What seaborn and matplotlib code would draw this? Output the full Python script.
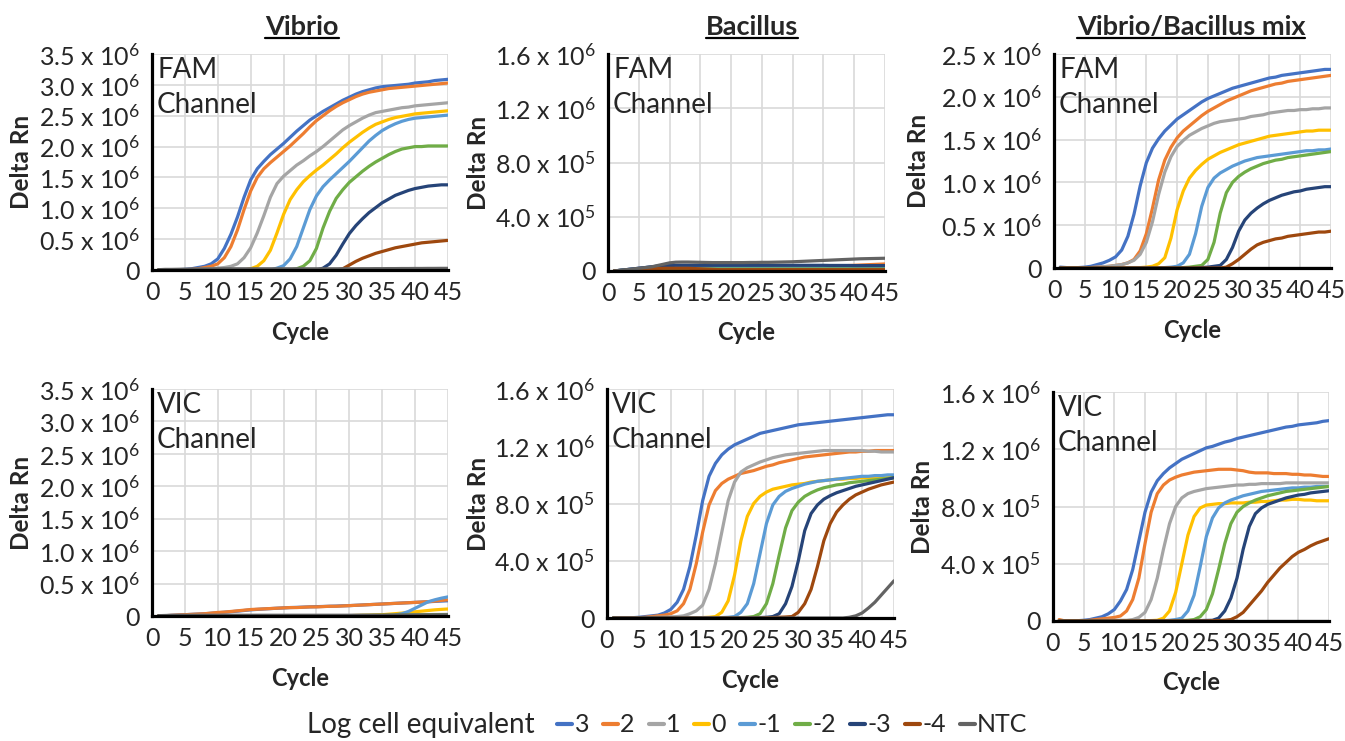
import pandas as pd
import matplotlib.pyplot as plt
import seaborn as sns
from matplotlib.lines import Line2D

# cycles and series
CYCLES = list(range(1, 46))
SERIES = ['3', '2', '1', '0', '-1', '-2', '-3', '-4', 'NTC']
COLORS = ['#4472C4', '#ED7D31', '#A5A5A5', '#FFC000', '#5B9BD5',
          '#70AD47', '#264478', '#9E480E', '#636363']

# ---- Vibrio, FAM channel (x 1e5) ----
vib_fam_3 = [0, 0, 0, 0.05, 0.1, 0.2, 0.4, 0.6, 1.0, 1.8,
             3.5, 5.8, 8.6, 11.8, 14.6, 16.4, 17.6, 18.7, 19.6, 20.5,
             21.5, 22.5, 23.4, 24.3, 25.0, 25.7, 26.3, 26.9, 27.5, 28.0,
             28.5, 28.9, 29.2, 29.5, 29.7, 29.8, 29.9, 30.0, 30.1, 30.3,
             30.4, 30.5, 30.7, 30.8, 30.9]
vib_fam_2 = [0, 0, 0, 0, 0.05, 0.1, 0.2, 0.4, 0.6, 1.0,
             2.0, 3.8, 6.5, 9.8, 12.8, 15.0, 16.4, 17.4, 18.3, 19.2,
             20.1, 21.1, 22.1, 23.2, 24.2, 25.0, 25.8, 26.5, 27.1, 27.6,
             28.1, 28.5, 28.8, 29.0, 29.2, 29.4, 29.5, 29.6, 29.7, 29.8,
             29.9, 30.0, 30.1, 30.2, 30.3]
vib_fam_1 = [0, 0, 0, 0, 0, 0.05, 0.1, 0.15, 0.2, 0.3,
             0.4, 0.6, 1.0, 2.0, 3.6, 6.0, 8.8, 11.8, 14.0, 15.2,
             16.1, 17.0, 17.7, 18.5, 19.2, 20.0, 20.9, 21.8, 22.7, 23.4,
             24.0, 24.6, 25.1, 25.5, 25.7, 25.9, 26.1, 26.3, 26.4, 26.6,
             26.7, 26.8, 26.9, 27.0, 27.1]
vib_fam_0 = [0, 0, 0, 0, 0, 0, 0, 0, 0, 0,
             0, 0, 0, 0, 0.2, 0.6, 1.5, 3.2, 6.0, 9.0,
             11.4, 13.0, 14.3, 15.3, 16.2, 17.0, 17.9, 18.8, 19.8, 20.7,
             21.5, 22.3, 23.0, 23.6, 24.0, 24.4, 24.7, 24.9, 25.1, 25.3,
             25.4, 25.5, 25.6, 25.7, 25.8]
vib_fam_m1 = [0, 0, 0, 0, 0, 0, 0, 0, 0, 0,
              0, 0, 0, 0, 0, 0, 0, 0, 0.3, 0.7,
              1.8, 3.8, 6.8, 9.8, 12.0, 13.5, 14.6, 15.6, 16.6, 17.6,
              18.7, 19.8, 20.9, 21.8, 22.6, 23.2, 23.7, 24.1, 24.4, 24.6,
              24.7, 24.8, 24.9, 25.0, 25.1]
vib_fam_m2 = [0, 0, 0, 0, 0, 0, 0, 0, 0, 0,
              0, 0, 0, 0, 0, 0, 0, 0, 0, 0,
              0, 0.2, 0.6, 1.5, 3.5, 6.8, 9.5, 11.6, 13.0, 14.2,
              15.1, 16.0, 16.8, 17.5, 18.1, 18.7, 19.2, 19.6, 19.8, 20.0,
              20.0, 20.1, 20.1, 20.1, 20.1]
vib_fam_m3 = [0, 0, 0, 0, 0, 0, 0, 0, 0, 0,
              0, 0, 0, 0, 0, 0, 0, 0, 0, 0,
              0, 0, 0, 0, 0, 0.3, 1.0, 2.4, 4.2, 5.9,
              7.2, 8.3, 9.3, 10.1, 10.9, 11.5, 12.1, 12.5, 12.9, 13.2,
              13.4, 13.6, 13.7, 13.8, 13.8]
vib_fam_m4 = [0, 0, 0, 0, 0, 0, 0, 0, 0, 0,
              0, 0, 0, 0, 0, 0, 0, 0, 0, 0,
              0, 0, 0, 0, 0, 0, 0, 0, 0.2, 0.8,
              1.4, 1.9, 2.3, 2.7, 3.0, 3.3, 3.6, 3.8, 4.0, 4.2,
              4.4, 4.5, 4.6, 4.7, 4.8]
vib_fam_ntc = [0.05, 0.1, 0.1, 0.12, 0.14, 0.15, 0.16, 0.17, 0.18, 0.19,
               0.2, 0.2, 0.2, 0.2, 0.2, 0.2, 0.2, 0.2, 0.2, 0.2,
               0.2, 0.2, 0.2, 0.2, 0.2, 0.2, 0.2, 0.2, 0.2, 0.2,
               0.2, 0.21, 0.21, 0.22, 0.22, 0.23, 0.23, 0.24, 0.24, 0.25,
               0.25, 0.26, 0.26, 0.27, 0.27]

# ---- Bacillus, FAM channel (x 1e5) ----
bac_fam_3 = [0, 0.05, 0.1, 0.15, 0.2, 0.25, 0.3, 0.35, 0.38, 0.4,
             0.4, 0.4, 0.4, 0.4, 0.4, 0.4, 0.4, 0.4, 0.4, 0.4,
             0.38, 0.38, 0.38, 0.38, 0.38, 0.38, 0.38, 0.38, 0.38, 0.38,
             0.38, 0.38, 0.38, 0.38, 0.38, 0.38, 0.38, 0.38, 0.38, 0.38,
             0.38, 0.38, 0.38, 0.38, 0.38]
bac_fam_2 = [0, 0.05, 0.05, 0.1, 0.1, 0.1, 0.12, 0.14, 0.15, 0.15,
             0.15, 0.15, 0.15, 0.15, 0.15, 0.15, 0.15, 0.16, 0.17, 0.18,
             0.19, 0.2, 0.21, 0.22, 0.23, 0.24, 0.25, 0.26, 0.27, 0.28,
             0.29, 0.3, 0.31, 0.32, 0.33, 0.34, 0.36, 0.38, 0.4, 0.42,
             0.44, 0.46, 0.48, 0.5, 0.52]
bac_fam_1 = [0, 0.05, 0.1, 0.12, 0.15, 0.18, 0.2, 0.22, 0.24, 0.25,
             0.25, 0.25, 0.25, 0.25, 0.25, 0.25, 0.25, 0.25, 0.25, 0.25,
             0.25, 0.25, 0.25, 0.25, 0.25, 0.25, 0.25, 0.25, 0.25, 0.25,
             0.25, 0.25, 0.25, 0.25, 0.25, 0.25, 0.25, 0.25, 0.25, 0.25,
             0.25, 0.25, 0.25, 0.25, 0.25]
bac_fam_0 = [0, 0.02, 0.05, 0.08, 0.1, 0.12, 0.14, 0.15, 0.15, 0.15,
             0.15, 0.15, 0.14, 0.13, 0.12, 0.11, 0.1, 0.1, 0.1, 0.1,
             0.1, 0.1, 0.1, 0.08, 0.06, 0.05, 0.05, 0.05, 0.05, 0.05,
             0.05, 0.05, 0.05, 0.05, 0.05, 0.05, 0.05, 0.05, 0.05, 0.05,
             0.05, 0.05, 0.05, 0.05, 0.05]
bac_fam_m1 = [0, 0.05, 0.1, 0.12, 0.15, 0.18, 0.2, 0.22, 0.24, 0.25,
              0.26, 0.27, 0.28, 0.29, 0.3, 0.3, 0.3, 0.3, 0.3, 0.3,
              0.3, 0.3, 0.3, 0.28, 0.25, 0.22, 0.2, 0.2, 0.2, 0.2,
              0.2, 0.2, 0.22, 0.24, 0.25, 0.25, 0.25, 0.25, 0.25, 0.25,
              0.25, 0.25, 0.25, 0.25, 0.25]
bac_fam_m2 = [0, 0.03, 0.06, 0.09, 0.12, 0.15, 0.15, 0.15, 0.15, 0.15,
              0.15, 0.15, 0.15, 0.15, 0.15, 0.15, 0.15, 0.15, 0.15, 0.15,
              0.15, 0.15, 0.15, 0.15, 0.15, 0.15, 0.15, 0.15, 0.15, 0.15,
              0.15, 0.15, 0.15, 0.15, 0.15, 0.15, 0.15, 0.15, 0.15, 0.15,
              0.15, 0.15, 0.15, 0.15, 0.15]
bac_fam_m3 = [0, 0.05, 0.1, 0.15, 0.2, 0.25, 0.3, 0.35, 0.38, 0.4,
              0.42, 0.42, 0.42, 0.42, 0.42, 0.42, 0.42, 0.42, 0.42, 0.42,
              0.42, 0.42, 0.42, 0.42, 0.42, 0.42, 0.42, 0.42, 0.42, 0.42,
              0.42, 0.42, 0.42, 0.42, 0.42, 0.41, 0.41, 0.41, 0.41, 0.4,
              0.4, 0.4, 0.4, 0.4, 0.4]
bac_fam_m4 = [0, 0.02, 0.05, 0.08, 0.1, 0.12, 0.15, 0.18, 0.2, 0.2,
              0.2, 0.2, 0.2, 0.18, 0.16, 0.14, 0.12, 0.1, 0.1, 0.1,
              0.1, 0.1, 0.1, 0.1, 0.1, 0.1, 0.1, 0.1, 0.1, 0.1,
              0.1, 0.1, 0.1, 0.1, 0.1, 0.1, 0.1, 0.1, 0.1, 0.1,
              0.1, 0.1, 0.1, 0.1, 0.1]
bac_fam_ntc = [0, 0.05, 0.1, 0.15, 0.2, 0.25, 0.3, 0.4, 0.5, 0.6,
               0.65, 0.66, 0.66, 0.65, 0.64, 0.63, 0.62, 0.62, 0.62, 0.62,
               0.62, 0.62, 0.63, 0.63, 0.64, 0.64, 0.65, 0.66, 0.67, 0.68,
               0.7, 0.72, 0.74, 0.76, 0.78, 0.8, 0.82, 0.84, 0.86, 0.88,
               0.9, 0.91, 0.92, 0.93, 0.94]

# ---- Vibrio/Bacillus mix, FAM channel (x 1e5) ----
mix_fam_3 = [0.1, 0.05, 0, 0.05, 0.1, 0.2, 0.4, 0.6, 0.9, 1.3,
             2.1, 3.7, 6.3, 9.6, 12.3, 14.0, 15.1, 16.0, 16.7, 17.4,
             17.9, 18.4, 18.9, 19.4, 19.8, 20.1, 20.4, 20.7, 21.0, 21.2,
             21.4, 21.6, 21.8, 22.0, 22.2, 22.3, 22.5, 22.6, 22.7, 22.8,
             22.9, 23.0, 23.1, 23.2, 23.2]
mix_fam_2 = [0, 0, 0, 0, 0, 0.05, 0.1, 0.15, 0.2, 0.3,
             0.4, 0.6, 1.0, 2.0, 4.0, 7.0, 10.3, 12.6, 14.1, 15.2,
             16.0, 16.6, 17.2, 17.8, 18.3, 18.7, 19.1, 19.5, 19.8, 20.1,
             20.4, 20.7, 20.9, 21.1, 21.3, 21.5, 21.6, 21.8, 21.9, 22.0,
             22.1, 22.2, 22.3, 22.4, 22.5]
mix_fam_1 = [0, 0, 0, 0, 0, 0.05, 0.1, 0.15, 0.2, 0.3,
             0.4, 0.6, 0.9, 1.6, 3.0, 5.4, 8.6, 11.2, 13.0, 14.2,
             14.9, 15.5, 15.9, 16.3, 16.6, 16.9, 17.1, 17.2, 17.3, 17.4,
             17.5, 17.7, 17.8, 17.9, 18.1, 18.2, 18.3, 18.4, 18.4, 18.5,
             18.5, 18.6, 18.6, 18.7, 18.7]
mix_fam_0 = [0, 0, 0, 0, 0, 0, 0, 0, 0, 0,
             0, 0, 0.05, 0.05, 0.1, 0.2, 0.5, 1.2, 3.5, 6.8,
             9.0, 10.5, 11.4, 12.1, 12.7, 13.1, 13.5, 13.8, 14.1, 14.4,
             14.6, 14.8, 15.0, 15.2, 15.4, 15.5, 15.6, 15.7, 15.8, 15.9,
             16.0, 16.0, 16.1, 16.1, 16.1]
mix_fam_m1 = [0, 0, 0, 0, 0, 0, 0, 0, 0, 0,
              0, 0, 0, 0, 0, 0, 0, 0.05, 0.1, 0.2,
              0.6, 1.6, 4.0, 7.2, 9.4, 10.5, 11.1, 11.5, 11.9, 12.2,
              12.5, 12.7, 12.9, 13.0, 13.1, 13.2, 13.3, 13.4, 13.5, 13.6,
              13.7, 13.7, 13.8, 13.8, 13.9]
mix_fam_m2 = [0, 0, 0, 0, 0, 0, 0, 0, 0, 0,
              0, 0, 0, 0, 0, 0, 0, 0, 0, 0,
              0.05, 0.1, 0.2, 0.3, 1.0, 3.0, 6.4, 8.8, 10.0, 10.7,
              11.2, 11.6, 11.9, 12.2, 12.4, 12.6, 12.7, 12.9, 13.0, 13.1,
              13.2, 13.3, 13.4, 13.5, 13.6]
mix_fam_m3 = [0, 0, 0, 0, 0, 0, 0, 0, 0, 0,
              0, 0, 0, 0, 0, 0, 0, 0, 0, 0,
              0, 0, 0, 0.05, 0.1, 0.2, 0.3, 1.0, 2.4, 4.3,
              5.6, 6.4, 7.0, 7.5, 7.9, 8.2, 8.5, 8.7, 8.9, 9.0,
              9.2, 9.3, 9.4, 9.5, 9.5]
mix_fam_m4 = [0, 0, 0, 0, 0, 0, 0, 0, 0, 0,
              0, 0, 0, 0, 0, 0, 0, 0, 0, 0,
              0, 0, 0, 0, 0, 0, 0, 0.1, 0.5, 1.0,
              1.6, 2.2, 2.7, 3.0, 3.2, 3.4, 3.5, 3.7, 3.8, 3.9,
              4.0, 4.1, 4.2, 4.2, 4.3]
mix_fam_ntc = [0, 0, 0, 0, 0, 0, 0, 0, 0, 0,
               0, 0, 0, 0, 0, 0, 0, 0, 0, 0,
               0, 0, 0, 0, 0, 0, 0, 0, 0, 0,
               0, 0, 0, 0, 0, 0, 0, 0, 0, 0,
               0, 0, 0, 0, 0]

# ---- Vibrio, VIC channel (x 1e5) ----
vib_vic_3 = [0, 0.05, 0.1, 0.15, 0.2, 0.25, 0.3, 0.35, 0.42, 0.5,
             0.58, 0.66, 0.75, 0.85, 0.95, 1.02, 1.08, 1.14, 1.2, 1.25,
             1.3, 1.33, 1.37, 1.41, 1.44, 1.47, 1.5, 1.53, 1.57, 1.6,
             1.65, 1.7, 1.75, 1.8, 1.85, 1.9, 1.95, 2.0, 2.05, 2.1,
             2.15, 2.2, 2.25, 2.3, 2.35]
vib_vic_2 = [0, 0.05, 0.1, 0.15, 0.2, 0.25, 0.3, 0.35, 0.45, 0.55,
             0.6, 0.7, 0.8, 0.9, 1.0, 1.05, 1.1, 1.15, 1.2, 1.25,
             1.3, 1.3, 1.35, 1.4, 1.4, 1.45, 1.5, 1.5, 1.55, 1.6,
             1.65, 1.7, 1.75, 1.8, 1.85, 1.9, 1.95, 2.0, 2.05, 2.1,
             2.15, 2.2, 2.3, 2.4, 2.5]
vib_vic_1 = [0, 0.02, 0.04, 0.06, 0.08, 0.1, 0.1, 0.1, 0.1, 0.1,
             0.1, 0.1, 0.1, 0.1, 0.1, 0.1, 0.1, 0.1, 0.1, 0.1,
             0.1, 0.1, 0.1, 0.1, 0.1, 0.1, 0.1, 0.1, 0.1, 0.1,
             0.11, 0.12, 0.13, 0.14, 0.15, 0.16, 0.17, 0.18, 0.19, 0.2,
             0.21, 0.22, 0.23, 0.24, 0.25]
vib_vic_0 = [0, 0.02, 0.04, 0.05, 0.05, 0.05, 0.05, 0.05, 0.05, 0.05,
             0.05, 0.05, 0.05, 0.05, 0.05, 0.05, 0.05, 0.05, 0.05, 0.05,
             0.05, 0.05, 0.05, 0.05, 0.05, 0.05, 0.05, 0.05, 0.05, 0.05,
             0.08, 0.1, 0.12, 0.15, 0.2, 0.28, 0.36, 0.45, 0.55, 0.65,
             0.75, 0.85, 0.95, 1.02, 1.08]
vib_vic_m1 = [0, 0.02, 0.04, 0.05, 0.05, 0.05, 0.05, 0.05, 0.05, 0.05,
              0.05, 0.05, 0.05, 0.05, 0.05, 0.05, 0.05, 0.05, 0.05, 0.05,
              0.05, 0.05, 0.05, 0.05, 0.05, 0.05, 0.05, 0.05, 0.05, 0.05,
              0.05, 0.05, 0.05, 0.05, 0.05, 0.08, 0.15, 0.35, 0.7, 1.2,
              1.7, 2.2, 2.5, 2.75, 2.95]
vib_vic_m2 = [0, 0.02, 0.04, 0.05, 0.05, 0.05, 0.05, 0.05, 0.05, 0.05,
              0.05, 0.05, 0.05, 0.05, 0.05, 0.05, 0.05, 0.05, 0.05, 0.05,
              0.05, 0.05, 0.05, 0.05, 0.05, 0.05, 0.05, 0.05, 0.05, 0.05,
              0.06, 0.07, 0.08, 0.09, 0.1, 0.11, 0.12, 0.13, 0.14, 0.15,
              0.16, 0.17, 0.18, 0.19, 0.2]
vib_vic_m3 = [0, 0.02, 0.03, 0.04, 0.05, 0.05, 0.05, 0.05, 0.05, 0.05,
              0.05, 0.05, 0.05, 0.05, 0.05, 0.05, 0.05, 0.05, 0.05, 0.05,
              0.05, 0.05, 0.05, 0.05, 0.05, 0.05, 0.05, 0.05, 0.05, 0.05,
              0.05, 0.05, 0.05, 0.05, 0.05, 0.05, 0.05, 0.05, 0.05, 0.05,
              0.05, 0.05, 0.05, 0.05, 0.05]
vib_vic_m4 = [0, 0.02, 0.03, 0.04, 0.05, 0.05, 0.05, 0.05, 0.05, 0.05,
              0.05, 0.05, 0.05, 0.05, 0.05, 0.05, 0.05, 0.05, 0.05, 0.05,
              0.05, 0.05, 0.05, 0.05, 0.05, 0.05, 0.05, 0.05, 0.05, 0.05,
              0.05, 0.05, 0.05, 0.05, 0.05, 0.05, 0.05, 0.05, 0.05, 0.05,
              0.05, 0.05, 0.05, 0.05, 0.05]
vib_vic_ntc = [0.05, 0.08, 0.1, 0.1, 0.1, 0.1, 0.1, 0.1, 0.1, 0.1,
               0.1, 0.1, 0.1, 0.1, 0.1, 0.1, 0.1, 0.1, 0.1, 0.1,
               0.1, 0.1, 0.1, 0.1, 0.1, 0.1, 0.1, 0.1, 0.1, 0.1,
               0.11, 0.12, 0.12, 0.13, 0.13, 0.14, 0.14, 0.15, 0.15, 0.16,
               0.16, 0.17, 0.17, 0.18, 0.18]

# ---- Bacillus, VIC channel (x 1e5) ----
bac_vic_3 = [0, 0, 0, 0.02, 0.05, 0.1, 0.15, 0.2, 0.35, 0.6,
             1.1, 2.0, 3.6, 5.8, 8.2, 9.9, 10.8, 11.4, 11.8, 12.1,
             12.3, 12.5, 12.7, 12.9, 13.0, 13.1, 13.2, 13.3, 13.4, 13.5,
             13.55, 13.6, 13.65, 13.7, 13.75, 13.8, 13.85, 13.9, 13.95, 14.0,
             14.05, 14.1, 14.15, 14.2, 14.2]
bac_vic_2 = [0, 0, 0, 0, 0.02, 0.05, 0.1, 0.15, 0.2, 0.3,
             0.5, 1.0, 2.0, 3.8, 6.0, 7.9, 8.9, 9.4, 9.7, 9.9,
             10.1, 10.2, 10.3, 10.45, 10.6, 10.7, 10.85, 10.95, 11.05, 11.15,
             11.25, 11.3, 11.35, 11.4, 11.45, 11.5, 11.55, 11.6, 11.6, 11.65,
             11.65, 11.7, 11.7, 11.7, 11.7]
bac_vic_1 = [0, 0, 0, 0, 0.02, 0.03, 0.04, 0.05, 0.06, 0.08,
             0.1, 0.15, 0.3, 0.5, 0.9, 2.0, 3.8, 6.0, 8.2, 9.5,
             10.2, 10.5, 10.7, 10.9, 11.05, 11.2, 11.3, 11.4, 11.45, 11.5,
             11.55, 11.6, 11.65, 11.7, 11.7, 11.7, 11.7, 11.7, 11.7, 11.7,
             11.65, 11.65, 11.6, 11.6, 11.6]
bac_vic_0 = [0, 0, 0, 0, 0, 0, 0, 0, 0, 0,
             0, 0, 0, 0.02, 0.03, 0.05, 0.1, 0.4, 1.2, 3.0,
             5.4, 7.1, 8.0, 8.5, 8.8, 9.0, 9.1, 9.2, 9.3, 9.35,
             9.4, 9.5, 9.55, 9.6, 9.65, 9.7, 9.7, 9.75, 9.75, 9.8,
             9.8, 9.8, 9.8, 9.8, 9.8]
bac_vic_m1 = [0, 0, 0, 0, 0, 0, 0, 0, 0, 0,
              0, 0, 0, 0, 0, 0, 0.02, 0.03, 0.05, 0.1,
              0.4, 1.0, 2.4, 4.5, 6.6, 7.9, 8.5, 8.85, 9.05, 9.2,
              9.35, 9.45, 9.55, 9.6, 9.65, 9.7, 9.75, 9.8, 9.85, 9.9,
              9.9, 9.95, 9.95, 10.0, 10.0]
bac_vic_m2 = [0, 0, 0, 0, 0, 0, 0, 0, 0, 0,
              0, 0, 0, 0, 0, 0, 0, 0, 0, 0.02,
              0.03, 0.05, 0.1, 0.3, 1.0, 2.4, 4.4, 6.3, 7.5, 8.1,
              8.5, 8.75, 8.95, 9.1, 9.2, 9.3, 9.35, 9.45, 9.5, 9.55,
              9.6, 9.65, 9.7, 9.75, 9.8]
bac_vic_m3 = [0, 0, 0, 0, 0, 0, 0, 0, 0, 0,
              0, 0, 0, 0, 0, 0, 0, 0, 0, 0,
              0, 0, 0.02, 0.03, 0.05, 0.1, 0.3, 1.0, 2.2, 4.0,
              6.1, 7.3, 7.9, 8.3, 8.55, 8.75, 8.9, 9.05, 9.2, 9.3,
              9.4, 9.5, 9.6, 9.7, 9.8]
bac_vic_m4 = [0, 0, 0, 0, 0, 0, 0, 0, 0, 0,
              0, 0, 0, 0, 0, 0, 0, 0, 0, 0,
              0, 0, 0, 0, 0.02, 0.03, 0.05, 0.07, 0.1, 0.4,
              1.0, 2.0, 3.6, 5.4, 6.6, 7.4, 7.9, 8.3, 8.6, 8.8,
              9.0, 9.15, 9.3, 9.4, 9.5]
bac_vic_ntc = [0, 0, 0, 0, 0, 0, 0, 0, 0, 0,
               0, 0, 0, 0, 0, 0, 0, 0, 0, 0,
               0, 0, 0, 0, 0, 0, 0, 0, 0, 0,
               0, 0, 0, 0, 0, 0, 0, 0.05, 0.15, 0.35,
               0.7, 1.1, 1.6, 2.1, 2.6]

# ---- Vibrio/Bacillus mix, VIC channel (x 1e5) ----
mix_vic_3 = [0, 0, 0, 0.02, 0.05, 0.1, 0.2, 0.3, 0.5, 0.8,
             1.4, 2.2, 3.6, 5.6, 7.6, 9.0, 9.8, 10.3, 10.7, 11.0,
             11.3, 11.5, 11.7, 11.9, 12.1, 12.2, 12.35, 12.5, 12.6, 12.75,
             12.85, 12.95, 13.05, 13.15, 13.25, 13.35, 13.45, 13.55, 13.6, 13.7,
             13.75, 13.8, 13.85, 13.95, 14.0]
mix_vic_2 = [0.1, 0, 0, 0, 0, 0.05, 0.1, 0.15, 0.2, 0.25,
             0.35, 0.7, 1.5, 3.0, 5.4, 7.6, 8.9, 9.5, 9.85, 10.05,
             10.2, 10.3, 10.4, 10.45, 10.5, 10.55, 10.6, 10.6, 10.6, 10.55,
             10.5, 10.4, 10.35, 10.35, 10.35, 10.3, 10.3, 10.3, 10.25, 10.25,
             10.2, 10.2, 10.15, 10.1, 10.1]
mix_vic_1 = [0, 0, 0, 0, 0, 0.02, 0.03, 0.04, 0.05, 0.05,
             0.05, 0.05, 0.1, 0.25, 0.6, 1.5, 3.0, 5.0, 6.8, 8.0,
             8.6, 8.9, 9.05, 9.15, 9.25, 9.3, 9.35, 9.4, 9.45, 9.5,
             9.5, 9.55, 9.55, 9.6, 9.6, 9.6, 9.6, 9.65, 9.65, 9.65,
             9.65, 9.65, 9.65, 9.65, 9.65]
mix_vic_0 = [0, 0, 0, 0, 0, 0, 0, 0, 0, 0,
             0, 0, 0, 0, 0.02, 0.03, 0.05, 0.2, 0.7, 2.0,
             4.0, 6.0, 7.3, 7.9, 8.1, 8.15, 8.2, 8.2, 8.25, 8.25,
             8.25, 8.3, 8.3, 8.35, 8.35, 8.4, 8.45, 8.45, 8.5, 8.5,
             8.45, 8.45, 8.4, 8.4, 8.4]
mix_vic_m1 = [0, 0, 0, 0, 0, 0, 0, 0, 0, 0,
              0, 0, 0, 0, 0, 0, 0, 0.02, 0.05, 0.1,
              0.2, 0.7, 1.8, 3.8, 5.9, 7.2, 7.9, 8.25, 8.45, 8.6,
              8.75, 8.85, 8.95, 9.05, 9.1, 9.15, 9.2, 9.25, 9.3, 9.3,
              9.35, 9.35, 9.4, 9.4, 9.4]
mix_vic_m2 = [0, 0, 0, 0, 0, 0, 0, 0, 0, 0,
              0, 0, 0, 0, 0, 0, 0, 0, 0, 0.02,
              0.03, 0.05, 0.1, 0.3, 0.8, 1.9, 3.6, 5.4, 6.8, 7.6,
              8.0, 8.25, 8.45, 8.6, 8.75, 8.85, 8.95, 9.05, 9.1, 9.15,
              9.2, 9.25, 9.3, 9.35, 9.4]
mix_vic_m3 = [0, 0, 0, 0, 0, 0, 0, 0, 0, 0,
              0, 0, 0, 0, 0, 0, 0, 0, 0, 0,
              0, 0, 0.02, 0.03, 0.04, 0.05, 0.2, 0.7, 1.6, 3.0,
              5.0, 6.6, 7.5, 7.9, 8.15, 8.3, 8.45, 8.6, 8.7, 8.8,
              8.85, 8.95, 9.0, 9.05, 9.1]
mix_vic_m4 = [0, 0, 0, 0, 0, 0, 0, 0, 0, 0,
              0, 0, 0, 0, 0, 0, 0, 0, 0, 0,
              0, 0, 0, 0, 0, 0.02, 0.03, 0.05, 0.1, 0.3,
              0.6, 1.1, 1.6, 2.1, 2.7, 3.2, 3.7, 4.1, 4.5, 4.8,
              5.0, 5.25, 5.45, 5.6, 5.75]
mix_vic_ntc = [0, 0, 0, 0, 0, 0, 0, 0, 0, 0,
               0, 0, 0, 0, 0, 0, 0, 0, 0, 0,
               0, 0, 0, 0, 0, 0, 0, 0, 0, 0,
               0, 0, 0, 0, 0, 0, 0, 0, 0, 0,
               0, 0, 0, 0, 0]

# y axis ticks and labels
VIB_YTICKS = [0, 0.5e6, 1.0e6, 1.5e6, 2.0e6, 2.5e6, 3.0e6, 3.5e6]
VIB_YLABELS = ['0', '0.5 x 10$^{6}$', '1.0 x 10$^{6}$', '1.5 x 10$^{6}$', '2.0 x 10$^{6}$',
               '2.5 x 10$^{6}$', '3.0 x 10$^{6}$', '3.5 x 10$^{6}$']
BAC_YTICKS = [0, 4e5, 8e5, 1.2e6, 1.6e6]
BAC_YLABELS = ['0', '4.0 x 10$^{5}$', '8.0 x 10$^{5}$', '1.2 x 10$^{6}$', '1.6 x 10$^{6}$']
MIX_YTICKS = [0, 0.5e6, 1.0e6, 1.5e6, 2.0e6, 2.5e6]
MIX_YLABELS = ['0', '0.5 x 10$^{6}$', '1.0 x 10$^{6}$', '1.5 x 10$^{6}$', '2.0 x 10$^{6}$',
               '2.5 x 10$^{6}$']
XTICKS = [0, 5, 10, 15, 20, 25, 30, 35, 40, 45]

# panels: data, y ticks, channel text, axes box in pixels (left, top, right, bottom), ylabel x
panels = [
    ([vib_fam_3, vib_fam_2, vib_fam_1, vib_fam_0, vib_fam_m1, vib_fam_m2, vib_fam_m3, vib_fam_m4, vib_fam_ntc],
     VIB_YTICKS, VIB_YLABELS, 'FAM', (152, 54, 448, 270), 22),
    ([bac_fam_3, bac_fam_2, bac_fam_1, bac_fam_0, bac_fam_m1, bac_fam_m2, bac_fam_m3, bac_fam_m4, bac_fam_ntc],
     BAC_YTICKS, BAC_YLABELS, 'FAM', (608, 54, 885, 271), 478),
    ([mix_fam_3, mix_fam_2, mix_fam_1, mix_fam_0, mix_fam_m1, mix_fam_m2, mix_fam_m3, mix_fam_m4, mix_fam_ntc],
     MIX_YTICKS, MIX_YLABELS, 'FAM', (1054, 54, 1331, 268), 918),
    ([vib_vic_3, vib_vic_2, vib_vic_1, vib_vic_0, vib_vic_m1, vib_vic_m2, vib_vic_m3, vib_vic_m4, vib_vic_ntc],
     VIB_YTICKS, VIB_YLABELS, 'VIC', (152, 389, 448, 616), 22),
    ([bac_vic_3, bac_vic_2, bac_vic_1, bac_vic_0, bac_vic_m1, bac_vic_m2, bac_vic_m3, bac_vic_m4, bac_vic_ntc],
     BAC_YTICKS, BAC_YLABELS, 'VIC', (607, 389, 894, 618), 478),
    ([mix_vic_3, mix_vic_2, mix_vic_1, mix_vic_0, mix_vic_m1, mix_vic_m2, mix_vic_m3, mix_vic_m4, mix_vic_ntc],
     BAC_YTICKS, BAC_YLABELS, 'VIC', (1053, 392, 1329, 621), 923),
]
TITLES = ['Vibrio', 'Bacillus', 'Vibrio/Bacillus mix']
TITLE_X = [302, 752, 1191]

W, H = 1345, 741

sns.set_style('white')
plt.rcParams['font.family'] = ['Lato', 'DejaVu Sans']
plt.rcParams['mathtext.fontset'] = 'custom'
plt.rcParams['mathtext.rm'] = 'Lato'
plt.rcParams['mathtext.default'] = 'regular'

fig = plt.figure(figsize=(W / 100, H / 100), dpi=100)

for series_lists, yticks, ylabels, channel, box, ylab_x in panels:
    l, t, r, b = box
    ax = fig.add_axes([l / W, 1 - b / H, (r - l) / W, (b - t) / H])

    rows = []
    for name, vals in zip(SERIES, series_lists):
        assert len(vals) == len(CYCLES), name
        for c, v in zip(CYCLES, vals):
            rows.append((c, v * 1e5, name))
    df = pd.DataFrame(rows, columns=['Cycle', 'Delta Rn', 'Log cell equivalent'])

    sns.lineplot(data=df, x='Cycle', y='Delta Rn', hue='Log cell equivalent',
                 hue_order=SERIES, palette=COLORS, linewidth=2.3,
                 estimator=None, legend=False, ax=ax)

    ax.set_xlim(0, 45)
    ax.set_ylim(0, yticks[-1])
    ax.set_xticks(XTICKS)
    ax.set_xticklabels([str(x) for x in XTICKS], fontsize=18)
    ax.set_yticks(yticks)
    ax.set_yticklabels(ylabels, fontsize=18)
    ax.tick_params(axis='both', length=0)
    ax.tick_params(axis='x', pad=8)
    ax.tick_params(axis='y', pad=9)
    ax.grid(True, color='#D9D9D9', linewidth=1.2)
    ax.set_axisbelow(True)
    for s in ['top', 'right']:
        ax.spines[s].set_visible(False)
    for s in ['left', 'bottom']:
        ax.spines[s].set_color('black')
        ax.spines[s].set_linewidth(2.3)

    ax.set_ylabel('Delta Rn', fontsize=17.5, fontweight='bold')
    ax.yaxis.set_label_coords((ylab_x - l) / (r - l), 0.5)
    ax.yaxis.label.set_verticalalignment('center')
    ax.set_xlabel('Cycle', fontsize=17, fontweight='bold')
    ax.xaxis.set_label_coords(0.5, -62 / (b - t))
    ax.xaxis.label.set_verticalalignment('center')

    ax.text(5 / (r - l), 1 - 16 / (b - t), channel, transform=ax.transAxes,
            fontsize=20, va='center', ha='left')
    ax.text(5 / (r - l), 1 - 51 / (b - t), 'Channel', transform=ax.transAxes,
            fontsize=20, va='center', ha='left')

# column titles, bold and underlined
title_texts = []
for name, tx in zip(TITLES, TITLE_X):
    title_texts.append(fig.text(tx / W, 1 - 27 / H, name, fontsize=19.5, fontweight='bold',
                                ha='center', va='center'))
fig.canvas.draw()
renderer = fig.canvas.get_renderer()
for txt in title_texts:
    bb = txt.get_window_extent(renderer)
    y = bb.y0 + 1
    fig.add_artist(Line2D([bb.x0 / W, bb.x1 / W], [y / H, y / H], color='black', linewidth=1.6))

# legend
fig.text(307 / W, 1 - 725 / H, 'Log cell equivalent', fontsize=20, ha='left', va='center')
handles = [Line2D([0], [0], color=c, linewidth=3) for c in COLORS]
fig.legend(handles, SERIES, loc='center left', bbox_to_anchor=(557 / W, 1 - 725 / H),
           ncol=9, frameon=False, fontsize=18, handlelength=0.6, handletextpad=0.1,
           columnspacing=0.55, borderaxespad=0, borderpad=0)

fig.savefig('out.png', dpi=100)
